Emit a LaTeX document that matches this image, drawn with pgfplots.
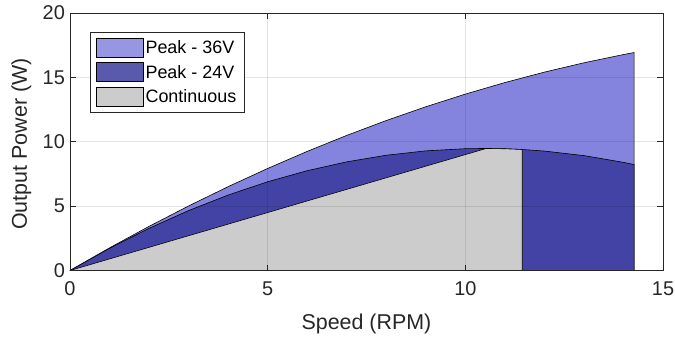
\documentclass[border=0pt]{standalone}
\usepackage{fontspec}
\setmainfont{Liberation Sans}
\usepackage{pgfplots}
\pgfplotsset{compat=1.18}
\definecolor{c36}{RGB}{132,132,223}
\definecolor{c24}{RGB}{67,67,166}
\definecolor{cgr}{RGB}{204,204,204}
\definecolor{l36}{RGB}{150,150,226}
\definecolor{l24}{RGB}{90,90,172}
\definecolor{lgr}{RGB}{204,204,204}
\definecolor{axc}{RGB}{38,38,38}
\begin{document}
\begin{tikzpicture}
\useasboundingbox (-70bp,-69.5bp) rectangle (605bp,270.5bp);
\begin{axis}[
 at={(0,0)}, anchor=south west,
 scale only axis, width=593bp, height=257.5bp,
 xmin=0,xmax=15,ymin=0,ymax=20,
 xtick={0,5,10,15}, ytick={0,5,10,15,20},
 tick align=inside, major tick length=6bp,
 axis on top,
 grid=major, grid style={color=black, opacity=0.1, line width=0.5bp},
 axis line style={axc, line width=0.6bp},
 tick style={axc, line width=0.6bp},
 /pgf/number format/assume math mode=true,
 tick label style={font=\fontsize{20}{20}\selectfont, text=axc},
 every x tick label/.append style={yshift=-7.8bp},
 every y tick label/.append style={xshift=-1.6bp},
 xlabel={Speed (RPM)}, ylabel={Output Power (W)},
 label style={font=\fontsize{21.5}{21.5}\selectfont, text=axc},
 x label style={at={(axis description cs:0.5,-0.209)}, anchor=center},
 y label style={at={(axis description cs:-0.082,0.491)}, anchor=center},
 legend style={at={(axis description cs:0.034,0.926)}, anchor=north west, draw=axc, line width=0.6bp,
   font=\fontsize{18}{18}\selectfont, text=black, inner xsep=6bp, inner ysep=6bp, row sep=4.5bp,
   nodes={inner xsep=2bp, inner ysep=1bp}},
 legend cell align=left,
 legend image code/.code={\draw[#1] (0bp,-9.5bp) rectangle (46.5bp,9.5bp);},
]
\addlegendimage{fill=l36, draw=black, line width=0.6bp}
\addlegendentry{Peak - 36V}
\addlegendimage{fill=l24, draw=black, line width=0.6bp}
\addlegendentry{Peak - 24V}
\addlegendimage{fill=lgr, draw=black, line width=0.6bp}
\addlegendentry{Continuous}

% Peak 36V
\addplot[forget plot, fill=c36, draw=black, line width=0.6bp] coordinates {
(0,0) (1,1.757) (2,3.428) (3,5.013) (4,6.512) (5,7.925) (6,9.252) (7,10.493)
(8,11.648) (9,12.717) (10,13.7) (11,14.597) (12,15.408) (13,16.133) (14,16.772) (14.27,16.93)
(14.27,0)} -- cycle;
% Peak 24V
\addplot[forget plot, fill=c24, draw=black, line width=0.6bp] coordinates {
(0,0) (1,1.7245) (2,3.276) (3,4.6545) (4,5.86) (5,6.8925) (6,7.752) (7,8.4385)
(8,8.952) (9,9.2925) (10,9.46) (10.53,9.479) (11,9.4545) (11.44,9.397) (12,9.276)
(13,8.9245) (14,8.40) (14.27,8.229) (14.27,0)} -- cycle;
% Continuous
\addplot[forget plot, fill=cgr, draw=black, line width=0.6bp] coordinates {
(0,0) (10.53,9.479) (11,9.4545) (11.44,9.397) (11.44,0)} -- cycle;
\end{axis}
\end{tikzpicture}
\end{document}
